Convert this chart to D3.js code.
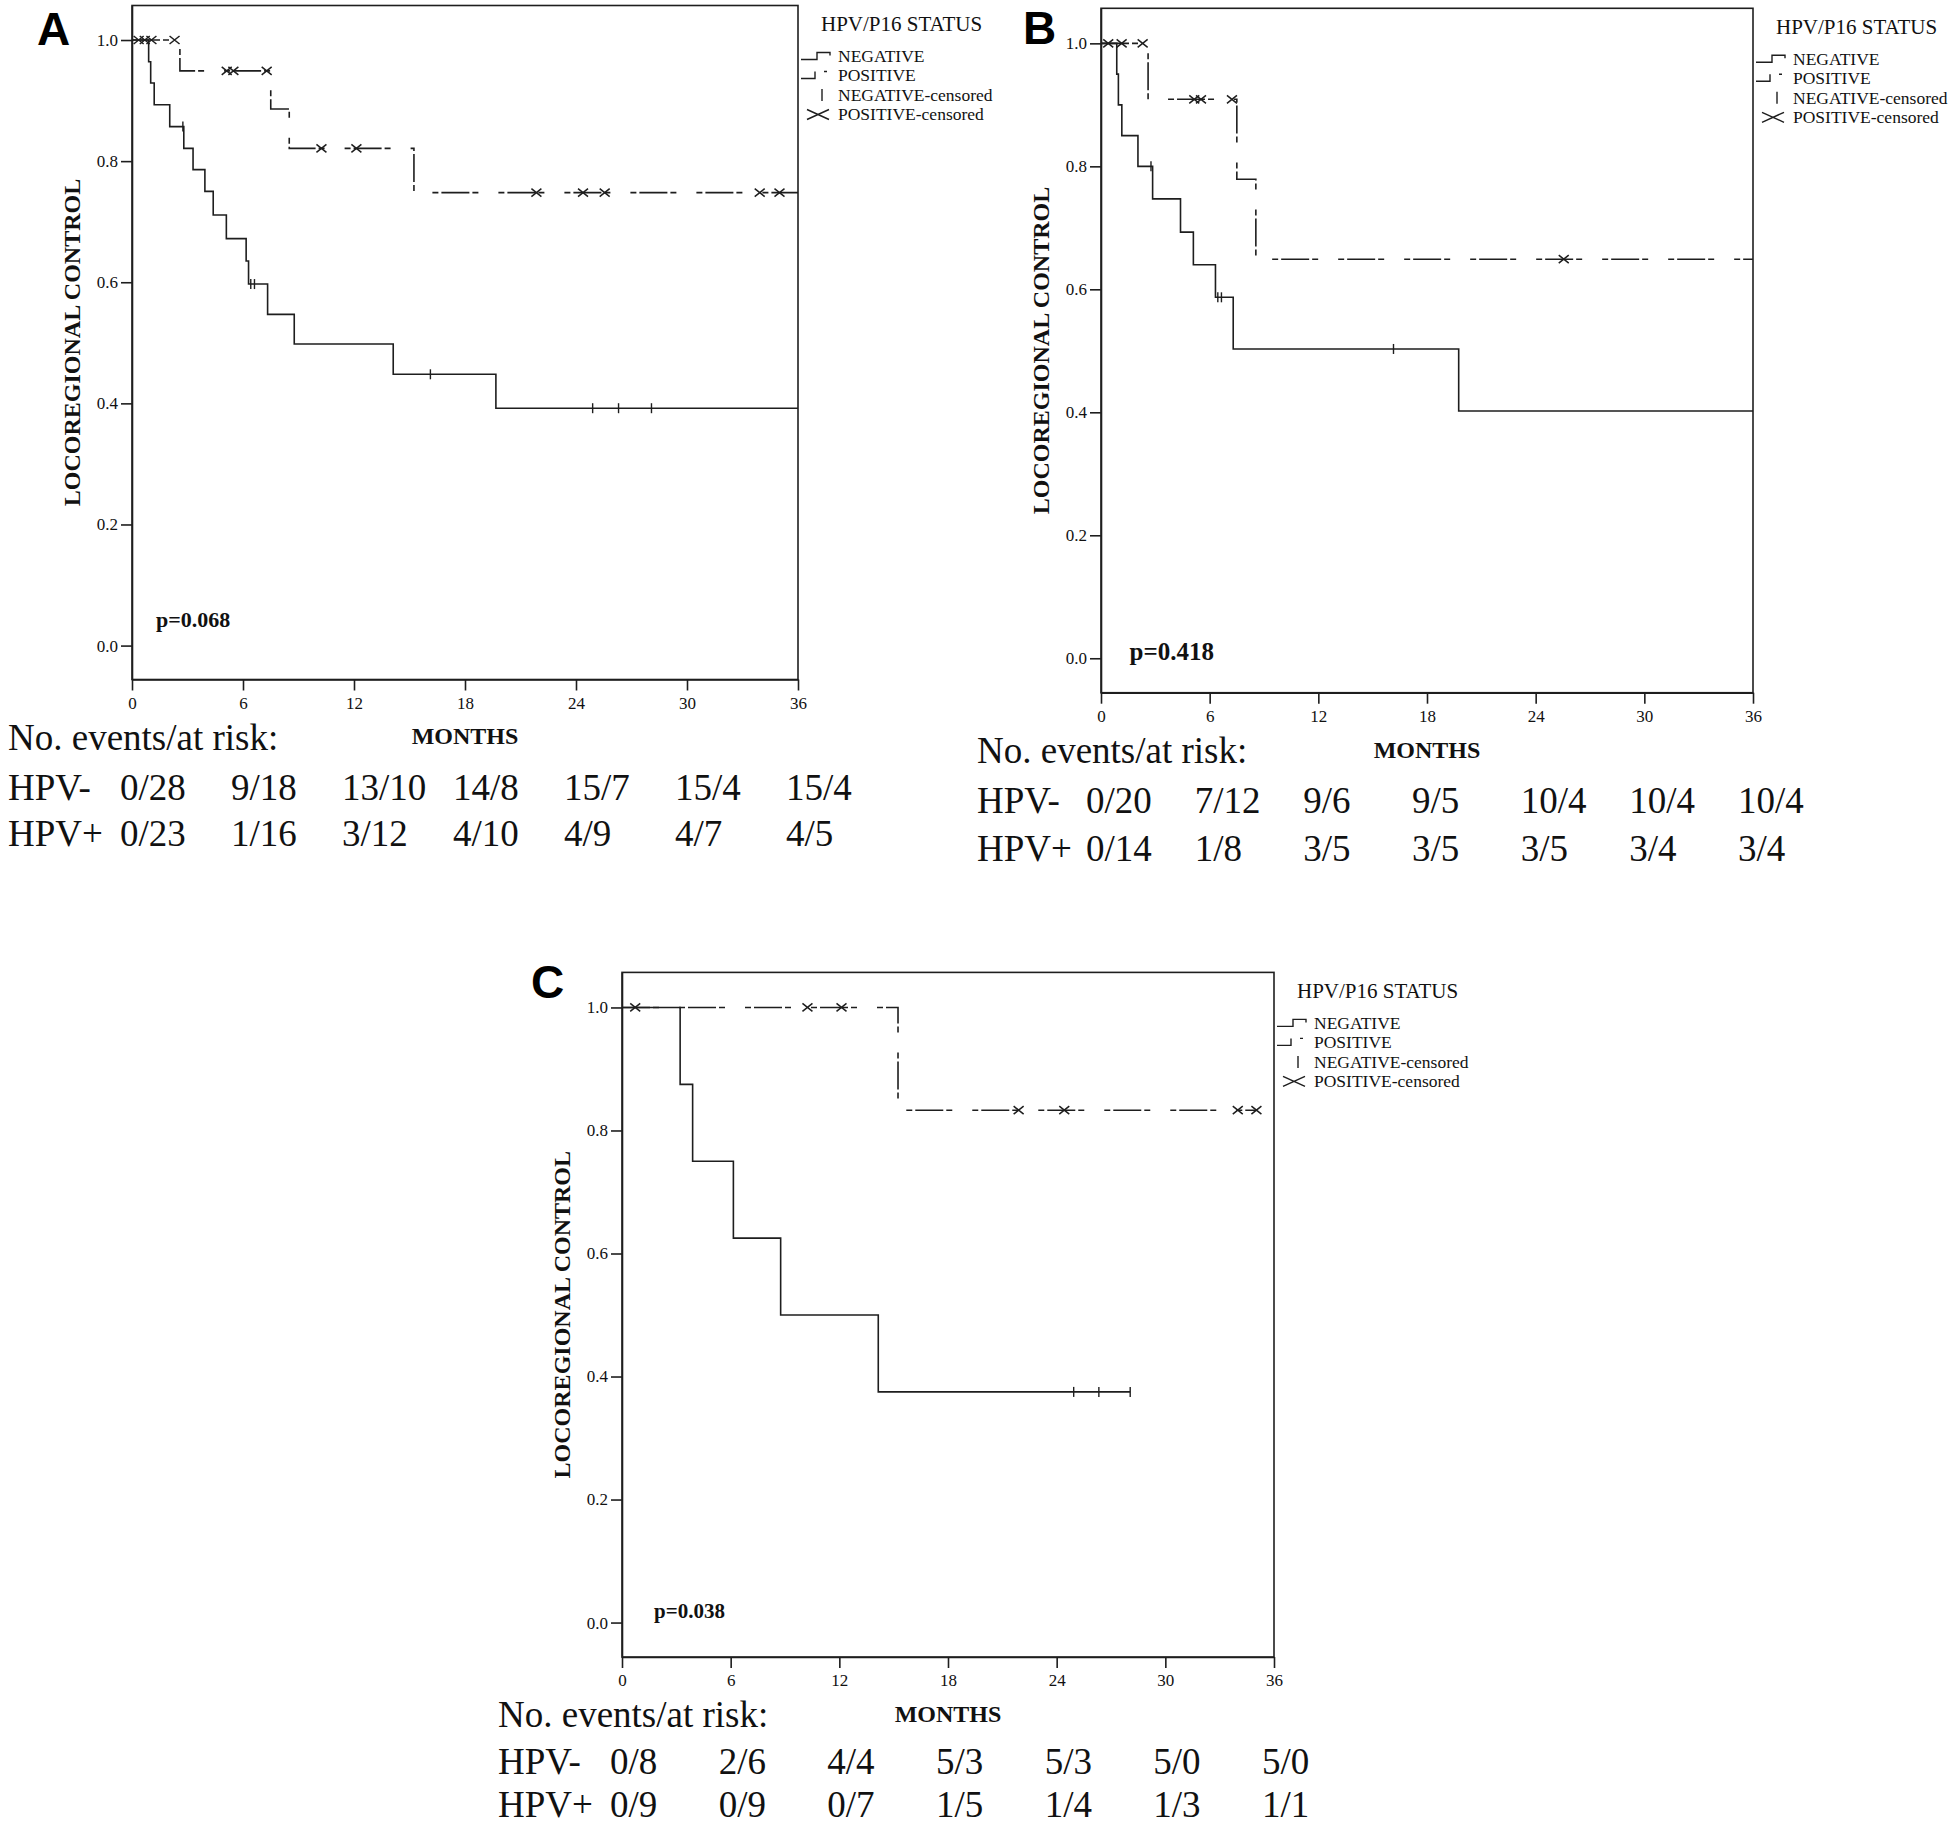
<!DOCTYPE html>
<html><head><meta charset="utf-8">
<script src="https://cdn.jsdelivr.net/npm/d3@7"></script>
<style>body{margin:0;background:#fff} svg{display:block}</style>
</head><body>
<svg id="chart" width="1950" height="1828"></svg>
<script>
// ---------- shared ----------
const months = [0, 6, 12, 18, 24, 30, 36];
const survTicks = [0.0, 0.2, 0.4, 0.6, 0.8, 1.0];
const legendTitle = "HPV/P16 STATUS";
const legendItems = ["NEGATIVE", "POSITIVE", "NEGATIVE-censored", "POSITIVE-censored"];
const yTitle = "LOCOREGIONAL CONTROL";
const xTitle = "MONTHS";
const riskTitle = "No. events/at risk:";
const rowLabels = ["HPV-", "HPV+"];

// ---------- panel A ----------
const aNegTimes = [0.9, 1.01, 1.2, 2.04, 2.8, 3.3, 3.94, 4.39, 5.1, 6.17, 6.3, 7.33, 8.77, 14.12, 19.67];
const aNegSurv  = [0.964, 0.929, 0.893, 0.857, 0.821, 0.786, 0.750, 0.711, 0.672, 0.635, 0.597, 0.547, 0.498, 0.448, 0.392];
const aNegEnd = 36;
const aNegCensor = [2.75, 6.42, 6.62, 16.13, 24.9, 26.3, 28.08];
const aPosTimes = [2.59, 7.5, 8.5, 15.24];
const aPosSurv  = [0.949, 0.886, 0.821, 0.748];
const aPosEnd = 36;
const aPosCensor = [0.36, 0.69, 1.05, 2.3, 5.12, 5.48, 7.28, 10.24, 12.13, 21.86, 24.38, 25.55, 33.93, 35.0];
const aRiskNeg = ["0/28", "9/18", "13/10", "14/8", "15/7", "15/4", "15/4"];
const aRiskPos = ["0/23", "1/16", "3/12", "4/10", "4/9", "4/7", "4/5"];
const aP = "p=0.068";

// ---------- panel B ----------
const bNegTimes = [0.87, 0.96, 1.15, 2.04, 2.85, 4.39, 5.1, 6.32, 7.3, 19.75];
const bNegSurv  = [0.95, 0.90, 0.85, 0.80, 0.747, 0.693, 0.64, 0.587, 0.503, 0.402];
const bNegEnd = 36;
const bNegCensor = [2.76, 6.45, 6.65, 16.15];
const bPosTimes = [2.6, 7.5, 8.55];
const bPosSurv  = [0.909, 0.779, 0.649];
const bPosEnd = 36;
const bPosCensor = [0.4, 1.14, 2.3, 5.15, 5.52, 7.23, 25.55];
const bRiskNeg = ["0/20", "7/12", "9/6", "9/5", "10/4", "10/4", "10/4"];
const bRiskPos = ["0/14", "1/8", "3/5", "3/5", "3/5", "3/4", "3/4"];
const bP = "p=0.418";

// ---------- panel C ----------
const cNegTimes = [3.21, 3.9, 6.15, 8.76, 14.15];
const cNegSurv  = [0.875, 0.75, 0.625, 0.5, 0.375];
const cNegEnd = 28.06;
const cNegCensor = [24.94, 26.33, 28.06];
const cPosTimes = [15.24];
const cPosSurv  = [0.833];
const cPosEnd = 35.03;
const cPosCensor = [0.73, 10.24, 12.12, 21.9, 24.42, 34.0, 35.03];
const cRiskNeg = ["0/8", "2/6", "4/4", "5/3", "5/3", "5/0", "5/0"];
const cRiskPos = ["0/9", "0/9", "0/7", "1/5", "1/4", "1/3", "1/1"];
const cP = "p=0.038";

// ---------- drawing ----------
const svg = d3.select("#chart");
const SERIF = "'Liberation Serif','Times New Roman',serif";
const SANS = "'Liberation Sans',Arial,sans-serif";
const INK = "#1e1e1e";
const YDOM = [-0.056, 1.057];

function stepPoints(times, surv, end) {
  const pts = [[0, 1]];
  let prev = 1;
  times.forEach((t, i) => { pts.push([t, prev]); pts.push([t, surv[i]]); prev = surv[i]; });
  pts.push([end, prev]);
  return pts;
}
function survAt(times, surv, t) {
  let s = 1;
  times.forEach((tt, i) => { if (tt <= t) s = surv[i]; });
  return s;
}

function drawPanel(c) {
  const g = svg.append("g");
  const x = d3.scaleLinear().domain([0, 36]).range([c.x0, c.x1]);
  const y = d3.scaleLinear().domain(YDOM).range([c.y1, c.y0]);

  // frame
  g.append("rect").attr("x", c.x0).attr("y", c.y0)
    .attr("width", c.x1 - c.x0).attr("height", c.y1 - c.y0)
    .attr("fill", "none").attr("stroke", INK).attr("stroke-width", 1.6);

  // axes
  const gx = g.append("g").attr("transform", `translate(0,${c.y1})`)
    .call(d3.axisBottom(x).tickValues(months).tickSize(11).tickSizeOuter(0).tickPadding(6));
  const gy = g.append("g").attr("transform", `translate(${c.x0},0)`)
    .call(d3.axisLeft(y).tickValues(survTicks).tickFormat(d3.format(".1f")).tickSize(11).tickSizeOuter(0).tickPadding(3));
  [gx, gy].forEach(a => {
    a.select(".domain").attr("stroke", INK).attr("stroke-width", 1.6);
    a.selectAll(".tick line").attr("stroke", INK).attr("stroke-width", 1.6);
    a.selectAll(".tick text").attr("font-family", SERIF).attr("font-size", 17).attr("fill", "#111");
  });

  // y title
  const yc = (c.y0 + c.y1) / 2, ytx = c.x0 - 60;
  g.append("text").attr("transform", `translate(${ytx},${yc}) rotate(-90)`)
    .attr("text-anchor", "middle").attr("dy", "0.35em")
    .attr("font-family", SERIF).attr("font-weight", "bold").attr("font-size", 24)
    .attr("fill", "#111").text(yTitle);

  // curves
  const line = d3.line().x(d => x(d[0])).y(d => y(d[1]));
  g.append("path").datum(stepPoints(c.negT, c.negS, c.negEnd)).attr("d", line)
    .attr("fill", "none").attr("stroke", INK).attr("stroke-width", 1.6);
  g.append("path").datum(stepPoints(c.posT, c.posS, c.posEnd)).attr("d", line)
    .attr("fill", "none").attr("stroke", INK).attr("stroke-width", 1.6)
    .attr("stroke-dasharray", "28,3,6,20,6,3");

  // censor marks
  g.selectAll(null).data(c.negC).join("line")
    .attr("x1", d => x(d)).attr("x2", d => x(d))
    .attr("y1", d => y(survAt(c.negT, c.negS, d)) - 5)
    .attr("y2", d => y(survAt(c.negT, c.negS, d)) + 5)
    .attr("stroke", INK).attr("stroke-width", 1.4);
  const px = g.selectAll(null).data(c.posC).join("g")
    .attr("transform", d => `translate(${x(d)},${y(survAt(c.posT, c.posS, d))})`);
  px.append("path").attr("d", "M-5,-4L5,4M-5,4L5,-4")
    .attr("stroke", INK).attr("stroke-width", 1.5).attr("fill", "none");

  // p value
  g.append("text").attr("x", x(c.pPos[0])).attr("y", y(c.pPos[1])).attr("dy", "0.33em")
    .attr("font-family", SERIF).attr("font-weight", "bold").attr("font-size", c.pSize)
    .attr("fill", "#111").text(c.p);

  // panel letter
  g.append("text").attr("x", c.letterX).attr("y", c.letterY)
    .attr("font-family", SANS).attr("font-weight", "bold").attr("font-size", 46)
    .attr("fill", "#000").text(c.letter);

  // legend
  const R = c.x1, T = c.y0;
  const lg = g.append("g");
  lg.append("text").attr("x", R + 23).attr("y", T + 19).attr("dy", "0.33em")
    .attr("font-family", SERIF).attr("font-size", 21).attr("fill", "#111").text(legendTitle);
  const rowsY = [T + 51, T + 70, T + 89.5, T + 109];
  legendItems.forEach((lab, i) => {
    const yy = rowsY[i];
    lg.append("text").attr("x", R + 40).attr("y", yy).attr("dy", "0.33em")
      .attr("font-family", SERIF).attr("font-size", 17.5).attr("fill", "#111").text(lab);
  });
  const sym = (d) => lg.append("path").attr("d", d).attr("fill", "none")
    .attr("stroke", INK).attr("stroke-width", 1.4);
  sym(`M${R + 3},${rowsY[0] + 3}H${R + 19}V${rowsY[0] - 4}H${R + 32}V${rowsY[0] - 1}`);
  sym(`M${R + 3},${rowsY[1] + 3}H${R + 17}V${rowsY[1] - 4}M${R + 26},${rowsY[1] - 4}H${R + 29}`);
  sym(`M${R + 24},${rowsY[2] - 6}V${rowsY[2] + 6}`);
  sym(`M${R + 9},${rowsY[3] - 5}L${R + 31},${rowsY[3] + 5}M${R + 9},${rowsY[3] + 5}L${R + 31},${rowsY[3] - 5}`);

  // risk table
  const B = c.y1;
  const tx = c.x0 - 124;
  const tf = (sel, size, weight) => sel.attr("font-family", SERIF).attr("font-size", size)
    .attr("font-weight", weight || "normal").attr("fill", "#111");
  tf(g.append("text").attr("x", tx).attr("y", B + 58).attr("dy", "0.33em").text(riskTitle), 37);
  tf(g.append("text").attr("x", (c.x0 + c.x1) / 2).attr("y", B + 57).attr("dy", "0.33em")
    .attr("text-anchor", "middle").text(xTitle), 24, "bold");
  [c.riskNeg, c.riskPos].forEach((row, r) => {
    const ry = B + c.rowOff[r];
    tf(g.append("text").attr("x", tx).attr("y", ry).attr("dy", "0.33em").text(rowLabels[r]), 37);
    g.selectAll(null).data(row).join("text")
      .attr("x", (d, i) => x(months[i]) - c.riskOff).attr("y", ry).attr("dy", "0.33em")
      .attr("font-family", SERIF).attr("font-size", 37).attr("fill", "#111").text(d => d);
  });
}

drawPanel({ letter: "A", letterX: 37, letterY: 45, x0: 132, x1: 798, y0: 5.5, y1: 679.5,
  negT: aNegTimes, negS: aNegSurv, negEnd: aNegEnd, negC: aNegCensor,
  posT: aPosTimes, posS: aPosSurv, posEnd: aPosEnd, posC: aPosCensor,
  riskNeg: aRiskNeg, riskPos: aRiskPos, riskOff: 12, rowOff: [108, 154],
  p: aP, pPos: [1.3, 0.042], pSize: 22 });
drawPanel({ letter: "B", letterX: 1023, letterY: 44, x0: 1101, x1: 1753, y0: 8.3, y1: 692.7,
  negT: bNegTimes, negS: bNegSurv, negEnd: bNegEnd, negC: bNegCensor,
  posT: bPosTimes, posS: bPosSurv, posEnd: bPosEnd, posC: bPosCensor,
  riskNeg: bRiskNeg, riskPos: bRiskPos, riskOff: 15, rowOff: [108, 156],
  p: bP, pPos: [1.58, 0.011], pSize: 25 });
drawPanel({ letter: "C", letterX: 531, letterY: 998, x0: 622, x1: 1274, y0: 972.4, y1: 1657,
  negT: cNegTimes, negS: cNegSurv, negEnd: cNegEnd, negC: cNegCensor,
  posT: cPosTimes, posS: cPosSurv, posEnd: cPosEnd, posC: cPosCensor,
  riskNeg: cRiskNeg, riskPos: cRiskPos, riskOff: 12, rowOff: [105, 148],
  p: cP, pPos: [1.77, 0.019], pSize: 21 });
</script>
</body></html>
